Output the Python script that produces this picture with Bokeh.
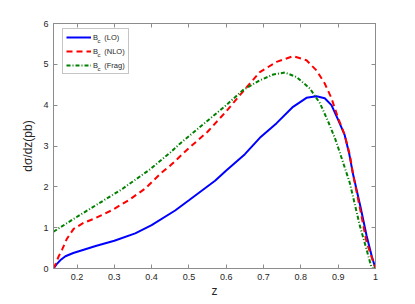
from bokeh.plotting import figure
from bokeh.models import Legend, LegendItem, LinearAxis, Range1d, FixedTicker, Label
from bokeh.embed import file_html
from bokeh.resources import INLINE

# Data
z_lo = [0.137, 0.145, 0.155, 0.169, 0.19, 0.218, 0.25, 0.3, 0.356, 0.4, 0.463, 0.5, 0.57,
        0.6, 0.65, 0.69, 0.735, 0.779, 0.815, 0.842, 0.864, 0.882, 0.9, 0.917, 0.93, 0.94,
        0.96, 0.976, 0.99, 1.0]
lo = [0.0, 0.1, 0.2, 0.3, 0.38, 0.46, 0.55, 0.68, 0.86, 1.06, 1.42, 1.67, 2.15,
      2.4, 2.8, 3.2, 3.56, 3.96, 4.18, 4.22, 4.17, 4.0, 3.64, 3.28, 2.79, 2.3,
      1.5, 0.81, 0.3, 0.0]

z_nlo = [0.137, 0.143, 0.151, 0.16, 0.173, 0.191, 0.218, 0.246, 0.294, 0.338, 0.383, 0.427,
         0.45, 0.5, 0.55, 0.6, 0.637, 0.69, 0.735, 0.779, 0.815, 0.842, 0.864, 0.882, 0.9,
         0.917, 0.931, 0.94, 0.96, 0.976, 1.0]
nlo = [0.0, 0.12, 0.3, 0.46, 0.73, 0.97, 1.12, 1.22, 1.43, 1.67, 1.96, 2.35,
       2.52, 2.95, 3.35, 3.85, 4.25, 4.81, 5.06, 5.2, 5.1, 4.85, 4.53, 4.17, 3.68,
       3.28, 2.79, 2.3, 1.4, 0.65, 0.0]

z_frag = [0.137, 0.142, 0.204, 0.249, 0.32, 0.396, 0.45, 0.475, 0.5, 0.55, 0.6, 0.645,
          0.69, 0.726, 0.757, 0.788, 0.824, 0.851, 0.873, 0.891, 0.904, 0.931, 0.958,
          0.975, 0.99, 1.0]
frag = [0.9, 0.93, 1.29, 1.54, 1.94, 2.43, 2.84, 3.05, 3.24, 3.62, 4.0, 4.37,
        4.61, 4.75, 4.8, 4.69, 4.41, 4.05, 3.6, 3.2, 2.85, 2.1, 1.05,
        0.5, 0.0, 0.0]

x_ticks = [0.2, 0.3, 0.4, 0.5, 0.6, 0.7, 0.8, 0.9, 1.0]
y_ticks = [0, 1, 2, 3, 4, 5, 6]
labels = ["B   (LO)", "B   (NLO)", "B   (Frag)"]

FONT = "Liberation Sans"
AX = "#8c8c8c"
TXT = "#262626"

p = figure(width=407, height=300, output_backend="svg", toolbar_location=None,
           x_range=Range1d(0.137, 1.0), y_range=Range1d(0, 6),
           min_border_left=53, min_border_right=32, min_border_top=23, min_border_bottom=30)
p.xgrid.visible = False
p.ygrid.visible = False
p.outline_line_color = AX
p.background_fill_color = "white"
p.border_fill_color = "white"

r1 = p.line(z_lo, lo, line_color="#0000ff", line_width=2)
r2 = p.line(z_nlo, nlo, line_color="#ff0000", line_width=2, line_dash="6 4")
r3 = p.line(z_frag, frag, line_color="#008000", line_width=2, line_dash="4 2 1 2")

for ax in (p.xaxis[0], p.yaxis[0]):
    ax.axis_line_color = AX
    ax.major_tick_line_color = AX
    ax.major_tick_in = 4
    ax.major_tick_out = 0
    ax.minor_tick_line_color = None
    ax.major_label_text_font = FONT
    ax.major_label_text_font_size = "9px"
    ax.major_label_text_color = TXT
    ax.axis_label_text_font = FONT
    ax.axis_label_text_font_size = "12px"
    ax.axis_label_text_font_style = "normal"
    ax.axis_label_text_color = TXT

p.xaxis[0].ticker = FixedTicker(ticks=x_ticks)
p.xaxis[0].major_label_overrides = {1.0: "1"}
p.xaxis[0].axis_label = "z"
p.xaxis[0].major_label_standoff = 5
p.xaxis[0].axis_label_standoff = 1
p.yaxis[0].ticker = FixedTicker(ticks=y_ticks)
p.yaxis[0].axis_label = "dσ/dz(pb)"
p.yaxis[0].major_label_standoff = 5
p.yaxis[0].axis_label_standoff = 5

top = LinearAxis(ticker=FixedTicker(ticks=x_ticks),
                 major_label_overrides={t: "" for t in x_ticks},
                 major_label_standoff=0,
                 axis_line_color=AX, major_tick_line_color=AX, major_tick_in=4,
                 major_tick_out=0, minor_tick_line_color=None)
right = LinearAxis(ticker=FixedTicker(ticks=y_ticks),
                   major_label_overrides={t: "" for t in y_ticks},
                   major_label_standoff=0,
                   axis_line_color=AX, major_tick_line_color=AX, major_tick_in=4,
                   major_tick_out=0, minor_tick_line_color=None)
p.add_layout(top, "above")
p.add_layout(right, "right")

legend = Legend(items=[LegendItem(label=labels[0], renderers=[r1]),
                       LegendItem(label=labels[1], renderers=[r2]),
                       LegendItem(label=labels[2], renderers=[r3])],
                location=(9, 194), margin=0, padding=3, spacing=4,
                glyph_width=25, glyph_height=10, label_standoff=2,
                label_text_font=FONT, label_text_font_size="7.5px", label_text_color=TXT,
                label_height=10, label_width=10, border_line_color=AX, border_line_width=1,
                background_fill_alpha=0)
p.add_layout(legend)

# subscript "c" in the legend labels (screen offsets from the frame's bottom-left)
for i in range(3):
    p.add_layout(Label(x=44, y=225 - i * 14, x_units="screen", y_units="screen",
                       text="c", text_font=FONT, text_font_size="6px", text_color=TXT,
                       text_baseline="bottom"))

open("out.html", "w").write(file_html(p, INLINE))
